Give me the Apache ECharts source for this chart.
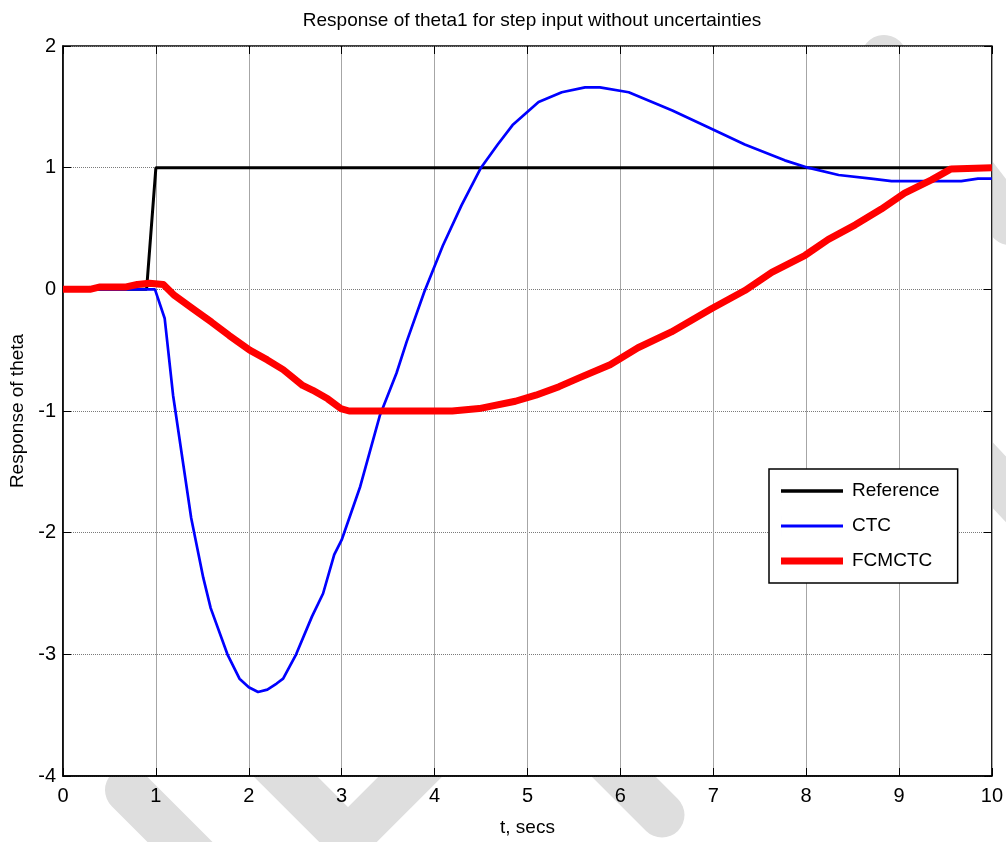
<!DOCTYPE html>
<html>
<head>
<meta charset="utf-8">
<script src="https://cdn.jsdelivr.net/npm/echarts@6/dist/echarts.min.js"></script>
<style>
  html, body { margin: 0; padding: 0; background: #fff; }
  #chart { width: 1006px; height: 842px; }
</style>
</head>
<body>
<div id="chart"></div>
<script>
// time axis ticks (secs) and response axis ticks
const xTicks = [0, 1, 2, 3, 4, 5, 6, 7, 8, 9, 10];
const yTicks = [-4, -3, -2, -1, 0, 1, 2];

// Reference step
const refTime = [0, 0.9, 1.0, 10];
const refVal  = [0, 0, 1, 1];

// CTC response
const ctcTime = [0, 0.99, 1.095, 1.185, 1.38, 1.51, 1.59, 1.77, 1.9, 2.0, 2.10, 2.2, 2.3, 2.37, 2.51,
  2.68, 2.80, 2.92, 3.0, 3.20, 3.41, 3.59, 3.70, 3.89, 4.09, 4.29, 4.50, 4.68, 4.84, 5.12, 5.37, 5.62,
  5.78, 6.09, 6.56, 6.98, 7.34, 7.77, 8.02, 8.35, 8.70, 8.92, 9.67, 9.85, 10];
const ctcVal  = [0, 0, -0.24, -0.87, -1.88, -2.37, -2.62, -3.0, -3.20, -3.27, -3.31, -3.29, -3.24, -3.20, -3.0,
  -2.69, -2.50, -2.18, -2.06, -1.62, -1.04, -0.69, -0.43, -0.02, 0.36, 0.69, 1.0, 1.19, 1.35, 1.54, 1.62, 1.66,
  1.66, 1.62, 1.47, 1.32, 1.19, 1.06, 1.0, 0.94, 0.91, 0.89, 0.89, 0.91, 0.91];

// FCMCTC response
const fcmTime = [0, 0.29, 0.4, 0.68, 0.8, 0.93, 1.08, 1.2, 1.40, 1.6, 1.79, 2.01, 2.2, 2.37, 2.58, 2.69, 2.85,
  2.99, 3.08, 4.19, 4.48, 4.87, 5.09, 5.34, 5.55, 5.89, 6.19, 6.55, 6.98, 7.34, 7.63, 7.99, 8.24, 8.53, 8.81,
  9.06, 9.35, 9.56, 10];
const fcmVal  = [0, 0, 0.02, 0.02, 0.04, 0.05, 0.04, -0.05, -0.16, -0.27, -0.38, -0.5, -0.58, -0.66, -0.79, -0.83, -0.9,
  -0.98, -1.0, -1.0, -0.98, -0.92, -0.87, -0.80, -0.73, -0.62, -0.48, -0.35, -0.16, -0.01, 0.14, 0.28, 0.41, 0.53, 0.66,
  0.79, 0.90, 0.99, 1.0];

const FONT = "'Liberation Sans Narrow', 'Arial Narrow', 'Liberation Sans', Arial, sans-serif";
const zip = (xs, ys) => xs.map((x, i) => [x, ys[i]]);

// legend icon: plain bar of given thickness centred in a 62x20 box
const barIcon = (t) => `path://M0,${10 - t / 2}H62V${10 + t / 2}H0Z M0,0H0.01V20H0Z`;

// light gray watermark strokes, on a lower canvas layer so the plot covers them
const WM = '#dedede';
const wmStroke = (points, width) => ({
  type: 'polyline',
  zlevel: -1,
  z: 0,
  silent: true,
  shape: { points },
  style: { stroke: WM, lineWidth: width, lineCap: 'round', lineJoin: 'round', fill: null }
});

const chart = echarts.init(document.getElementById('chart'), null, { renderer: 'canvas' });

const TICK = { show: true, inside: true, length: 8, lineStyle: { color: '#000', width: 1 } };

const hiddenAxisCommon = {
  axisLine: { show: false, onZero: false },
  axisLabel: { show: false },
  splitLine: { show: false },
  axisTick: TICK
};

const option = {
  animation: false,
  title: {
    text: 'Response of theta1 for step input without uncertainties',
    left: 527,
    top: 6,
    textAlign: 'center',
    textStyle: { fontFamily: FONT, fontSize: 19, fontWeight: 'normal', color: '#000' }
  },
  graphic: [
    { type: 'rect', zlevel: -2, silent: true, shape: { x: 0, y: 0, width: 1006, height: 842 }, style: { fill: '#fff' } },
    wmStroke([[128, 790], [230, 892]], 46),
    wmStroke([[230, 721], [348, 839], [466, 721]], 45),
    wmStroke([[560, 713], [662, 815]], 45),
    wmStroke([[884, 58], [1010, 222]], 46),
    wmStroke([[955, 435], [1030, 515]], 45)
  ],
  grid: {
    left: 63, right: 12, top: 46, bottom: 59,
    show: true,
    backgroundColor: '#fff',
    borderColor: '#000',
    borderWidth: 1.5
  },
  legend: {
    orient: 'vertical',
    left: 769,
    top: 469,
    padding: [12, 18, 12, 12],
    itemGap: 15,
    itemWidth: 62,
    itemHeight: 20,
    backgroundColor: '#fff',
    borderColor: '#000',
    borderWidth: 1.5,
    borderRadius: 0,
    textStyle: { fontFamily: FONT, fontSize: 19, color: '#000', padding: [0, 0, 0, 4] },
    data: [
      { name: 'Reference', icon: barIcon(3.5) },
      { name: 'CTC', icon: barIcon(3) },
      { name: 'FCMCTC', icon: barIcon(7) }
    ]
  },
  xAxis: [
    {
      type: 'value',
      position: 'bottom',
      min: xTicks[0],
      max: xTicks[xTicks.length - 1],
      interval: 1,
      name: 't, secs',
      nameLocation: 'middle',
      nameGap: 42,
      nameTextStyle: { fontFamily: FONT, fontSize: 19, color: '#000' },
      axisLine: { show: true, onZero: false, lineStyle: { color: '#000', width: 1.5 } },
      axisTick: TICK,
      axisLabel: { fontFamily: FONT, fontSize: 20, color: '#000', margin: 10 },
      splitLine: { show: true, lineStyle: { color: '#a6a6a6', width: 1, type: 'solid' } }
    },
    Object.assign({ type: 'value', position: 'top', min: 0, max: 10, interval: 1 }, hiddenAxisCommon)
  ],
  yAxis: [
    {
      type: 'value',
      position: 'left',
      min: yTicks[0],
      max: yTicks[yTicks.length - 1],
      interval: 1,
      name: 'Response of theta',
      nameLocation: 'middle',
      nameGap: 34,
      nameTextStyle: { fontFamily: FONT, fontSize: 19, color: '#000' },
      axisLine: { show: true, onZero: false, lineStyle: { color: '#000', width: 1.5 } },
      axisTick: TICK,
      axisLabel: { fontFamily: FONT, fontSize: 20, color: '#000', margin: 7 },
      splitLine: { show: true, lineStyle: { color: '#7a7a7a', width: 1, type: [1, 1] } }
    },
    Object.assign({ type: 'value', position: 'right', min: -4, max: 2, interval: 1 }, hiddenAxisCommon)
  ],
  series: [
    {
      name: 'Reference',
      type: 'line',
      data: zip(refTime, refVal),
      symbol: 'none',
      z: 3,
      lineStyle: { color: '#000', width: 3 },
      itemStyle: { color: '#000' }
    },
    {
      name: 'CTC',
      type: 'line',
      data: zip(ctcTime, ctcVal),
      symbol: 'none',
      z: 4,
      lineStyle: { color: '#0000ff', width: 2.7 },
      itemStyle: { color: '#0000ff' }
    },
    {
      name: 'FCMCTC',
      type: 'line',
      data: zip(fcmTime, fcmVal),
      symbol: 'none',
      z: 5,
      lineStyle: { color: '#ff0000', width: 7, join: 'round' },
      itemStyle: { color: '#ff0000' }
    }
  ]
};

chart.setOption(option);
</script>
</body>
</html>
